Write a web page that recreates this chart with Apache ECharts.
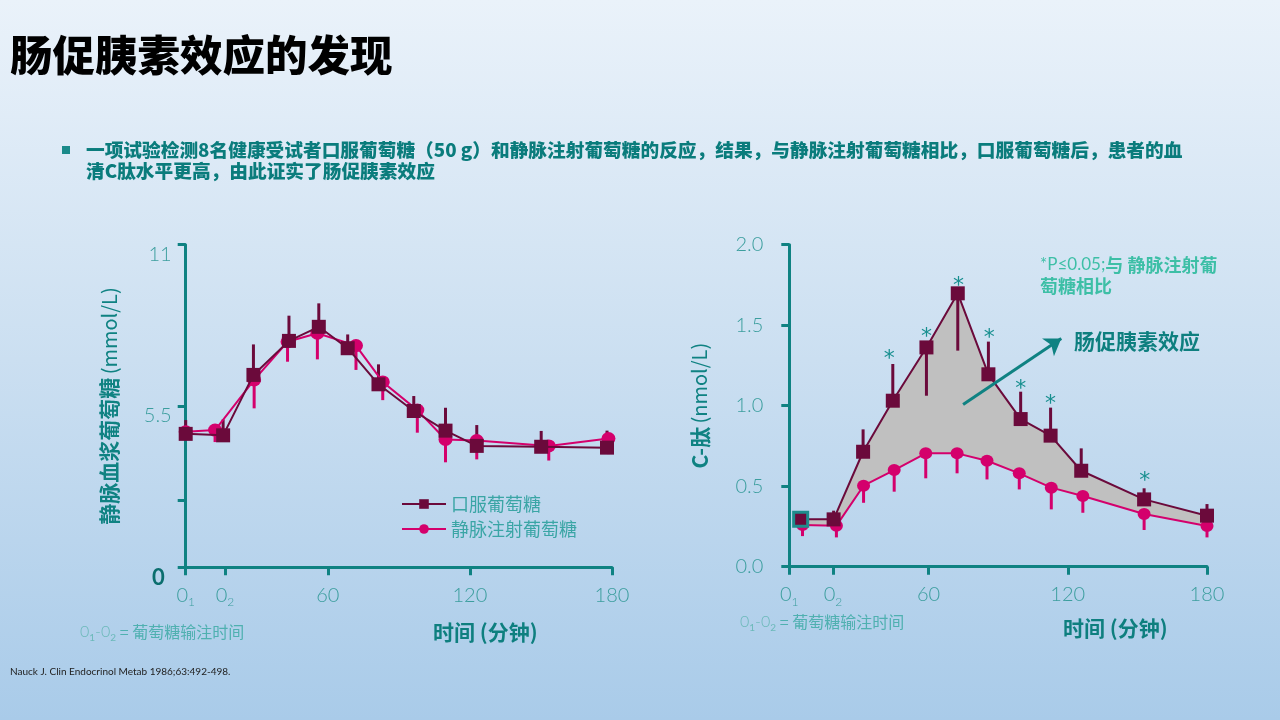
<!DOCTYPE html>
<html><head><meta charset="utf-8">
<script src="https://cdn.jsdelivr.net/npm/echarts@6/dist/echarts.min.js"></script>
<style>html,body{margin:0;padding:0;width:1280px;height:720px;overflow:hidden}#c{width:1280px;height:720px}</style>
</head><body><div id="c"></div>
<script>
// ---- text ----
const titleText = '肠促胰素效应的发现';
const bulletLine1 = '一项试验检测8名健康受试者口服葡萄糖（50 g）和静脉注射葡萄糖的反应，结果，与静脉注射葡萄糖相比，口服葡萄糖后，患者的血';
const bulletLine2 = '清C肽水平更高，由此证实了肠促胰素效应';
const seriesNames = ['口服葡萄糖', '静脉注射葡萄糖'];
const xAxisTitle = '时间 (分钟)';
const infusionNote = ' = 葡萄糖输注时间';
const refText = 'Nauck J. Clin Endocrinol Metab 1986;63:492-498.';
const sigNote1a = '*P≤0.05;';
const sigNote1b = '与 静脉注射葡';
const sigNote2 = '萄糖相比';
const effectText = '肠促胰素效应';

// ---- left chart: venous plasma glucose (mmol/L) ----
const gluYTicks = [0, 2.3, 5.5, 11];
const gluYLabels = [0, 5.5, 11];
const gluXTicks = [0, 16.6, 60, 120, 180];
const gluOralX = [0, 15.8, 28.6, 43.6, 56.2, 68.4, 81.4, 96.3, 109.7, 122.9, 150.1, 177.9];
const gluOralY = [4.55, 4.50, 6.56, 7.72, 8.20, 7.47, 6.24, 5.33, 4.66, 4.14, 4.11, 4.08];
const gluOralErr = [5.02, 5.04, 7.60, 8.58, 9.00, 7.94, 6.92, 5.84, 5.44, 4.85, 4.65, 4.66];
const gluIvX = [0, 12.4, 28.9, 43.0, 55.6, 71.9, 83.2, 97.8, 109.7, 122.9, 153.3, 178.5];
const gluIvY = [4.62, 4.68, 6.39, 7.69, 7.98, 7.56, 6.32, 5.36, 4.36, 4.32, 4.14, 4.39];
const gluIvErr = [4.35, 4.27, 5.42, 7.01, 7.09, 6.73, 5.70, 4.59, 3.58, 3.68, 3.64, 3.86];

// ---- right chart: C-peptide (nmol/L) ----
const cpXTicks = [0, 18.8, 60, 120, 180];
const cpOralX = [4.9, 19.1, 31.8, 44.6, 59.1, 72.6, 85.8, 99.7, 112.6, 125.8, 152.9, 180];
const cpOralY = [0.294, 0.294, 0.714, 1.031, 1.362, 1.698, 1.195, 0.917, 0.814, 0.596, 0.418, 0.317];
const cpOralErr = [0.34, 0.348, 0.853, 1.259, 1.062, 1.342, 1.398, 1.087, 0.988, 0.735, 0.487, 0.389];
const cpIvX = [5.7, 20.3, 32.0, 45.2, 58.8, 72.3, 85.2, 99.1, 112.9, 126.5, 152.9, 180];
const cpIvY = [0.259, 0.255, 0.503, 0.600, 0.704, 0.704, 0.658, 0.580, 0.491, 0.439, 0.327, 0.253];
const cpIvErr = [0.19, 0.182, 0.397, 0.466, 0.549, 0.580, 0.542, 0.480, 0.356, 0.335, 0.228, 0.182];
const starX = [43.1, 59.1, 72.9, 86.2, 99.7, 112.6, 153.2];
const starY = [1.319, 1.453, 1.770, 1.449, 1.135, 1.041, 0.563];
const arrowFrom = [74.9, 1.008];
const arrowTo = [117.2, 1.418];

// ---- styles ----
const TEAL = '#0F8282';
const TEAL_TXT = '#3C9E9E';
const ORAL = '#6B0A3B';
const IV = '#D4006C';
const CJK = '"Noto Sans CJK SC", "Noto Sans", sans-serif';
const NUM = 'Lato, "Noto Sans", sans-serif';

const chart = echarts.init(document.getElementById('c'));

function xLabelFmt(o2) {
  return function (v) {
    if (v === 0) return '{m|0}{s|1}';
    if (Math.abs(v - o2) < 0.01) return '{m|0}{s|2}';
    return '{m|' + v + '}';
  };
}
const xRich = {
  m: { fontSize: 20, lineHeight: 20, color: TEAL_TXT, fontFamily: NUM, fontWeight: 300, verticalAlign: 'top' },
  s: { fontSize: 12, lineHeight: 12, color: TEAL_TXT, fontFamily: NUM, fontWeight: 300, verticalAlign: 'top', padding: [11, 0, 0, 0] }
};
function xAxisCfg(gridIndex, ticks, o2) {
  return {
    type: 'value', gridIndex: gridIndex, min: 0, max: 180,
    axisLine: { show: true, lineStyle: { color: TEAL, width: 3 } },
    axisTick: { show: true, length: 8, lineStyle: { color: TEAL, width: 3 }, customValues: ticks },
    axisLabel: { customValues: ticks, formatter: xLabelFmt(o2), rich: xRich, margin: 18, verticalAlign: 'top' },
    splitLine: { show: false }
  };
}

function errSeries(xi, xs, ys, es, color) {
  return {
    type: 'custom', xAxisIndex: xi, yAxisIndex: xi, z: 2, silent: true,
    data: xs.map((x, i) => [x, ys[i], es[i]]),
    encode: { x: 0, y: [1, 2] },
    renderItem: function (params, api) {
      const p1 = api.coord([api.value(0), api.value(1)]);
      const p2 = api.coord([api.value(0), api.value(2)]);
      return { type: 'line', shape: { x1: p1[0], y1: p1[1], x2: p2[0], y2: p2[1] }, style: { stroke: color, lineWidth: 3 } };
    }
  };
}
function pts(xs, ys) { return xs.map((x, i) => [x, ys[i]]); }

const cpOralData = pts(cpOralX, cpOralY);
cpOralData[0] = { value: cpOralData[0], itemStyle: { color: ORAL, borderColor: '#1E8C8C', borderWidth: 3 } };

const nameRich = {
  b: { fontSize: 21, fontWeight: 'bold', color: TEAL, fontFamily: CJK },
  r: { fontSize: 20, color: TEAL, fontFamily: CJK }
};

const option = {
  animation: false,
  backgroundColor: {
    type: 'linear', x: 0, y: 0, x2: 0, y2: 1,
    colorStops: [{ offset: 0, color: '#EAF2FA' }, { offset: 0.5, color: '#CBDFF1' }, { offset: 1, color: '#A9CBE9' }]
  },
  grid: [
    { left: 185.7, top: 244.7, width: 426.3, height: 322.6 },
    { left: 789.3, top: 244.7, width: 417.7, height: 322 }
  ],
  legend: {
    data: seriesNames,
    left: 396, top: 490, orient: 'vertical', itemWidth: 44, itemHeight: 12, itemGap: 7,
    textStyle: { fontSize: 18, color: '#3AA5A5', fontFamily: CJK },
    selectedMode: false
  },
  xAxis: [xAxisCfg(0, gluXTicks, gluXTicks[1]), xAxisCfg(1, cpXTicks, cpXTicks[1])],
  yAxis: [
    {
      type: 'value', gridIndex: 0, min: 0, max: 11,
      axisLine: { show: true, lineStyle: { color: TEAL, width: 3 } },
      axisTick: { show: true, length: 8, lineStyle: { color: TEAL, width: 3 }, customValues: gluYTicks },
      axisLabel: {
        customValues: gluYLabels, margin: 14, verticalAlign: 'top',
        formatter: function (v) { return v === 0 ? '{z|0}' : '{n|' + v + '}'; },
        rich: {
          n: { fontSize: 20, color: TEAL_TXT, fontFamily: NUM, fontWeight: 300 },
          z: { fontSize: 22, color: '#0B6E6E', fontFamily: NUM, fontWeight: 'bold', padding: [0, 7, 0, 0] }
        }
      },
      splitLine: { show: false },
      name: '{b|静脉血浆葡萄糖} {r|(mmol/L)}', nameLocation: 'middle', nameGap: 66, nameRotate: 90,
      nameTextStyle: { rich: nameRich }
    },
    {
      type: 'value', gridIndex: 1, min: 0, max: 2, interval: 0.5,
      axisLine: { show: true, lineStyle: { color: TEAL, width: 3 } },
      axisTick: { show: true, length: 8, lineStyle: { color: TEAL, width: 3 } },
      axisLabel: { margin: 26, fontSize: 20, color: TEAL_TXT, fontFamily: NUM, fontWeight: 300, formatter: v => v.toFixed(1) },
      splitLine: { show: false },
      name: '{b|C-肽} {r|(nmol/L)}', nameLocation: 'middle', nameGap: 79, nameRotate: 90,
      nameTextStyle: { rich: nameRich }
    }
  ],
  series: [
    // left chart
    errSeries(0, gluIvX, gluIvY, gluIvErr, IV),
    errSeries(0, gluOralX, gluOralY, gluOralErr, ORAL),
    {
      name: seriesNames[1], type: 'line', xAxisIndex: 0, yAxisIndex: 0, z: 3,
      data: pts(gluIvX, gluIvY), symbol: 'circle', symbolSize: [14, 13],
      lineStyle: { color: IV, width: 2 }, itemStyle: { color: IV }, clip: false
    },
    {
      name: seriesNames[0], type: 'line', xAxisIndex: 0, yAxisIndex: 0, z: 4,
      data: pts(gluOralX, gluOralY), symbol: 'rect', symbolSize: 14,
      lineStyle: { color: ORAL, width: 2 }, itemStyle: { color: ORAL }, clip: false
    },
    // right chart
    {
      type: 'custom', xAxisIndex: 1, yAxisIndex: 1, z: 1, silent: true,
      data: [[0, 0]], encode: { x: 0, y: 1 },
      renderItem: function (params, api) {
        const up = cpOralX.map((x, i) => api.coord([x, cpOralY[i]]));
        const lo = cpIvX.map((x, i) => api.coord([x, cpIvY[i]])).reverse();
        return { type: 'polygon', shape: { points: up.concat(lo) }, style: { fill: '#C0C0C0' } };
      }
    },
    errSeries(1, cpIvX, cpIvY, cpIvErr, IV),
    errSeries(1, cpOralX, cpOralY, cpOralErr, ORAL),
    {
      name: seriesNames[1], type: 'line', xAxisIndex: 1, yAxisIndex: 1, z: 3,
      data: pts(cpIvX, cpIvY), symbol: 'circle', symbolSize: [13, 12],
      lineStyle: { color: IV, width: 2 }, itemStyle: { color: IV }, clip: false,
      markLine: {
        silent: true, symbol: ['none', 'arrow'], symbolSize: 16, animation: false,
        label: { show: false },
        lineStyle: { color: TEAL, width: 3, type: 'solid' },
        data: [[{ coord: arrowFrom }, { coord: arrowTo }]]
      }
    },
    {
      name: seriesNames[0], type: 'line', xAxisIndex: 1, yAxisIndex: 1, z: 4,
      data: cpOralData, symbol: 'rect', symbolSize: 14,
      lineStyle: { color: ORAL, width: 2 }, itemStyle: { color: ORAL }, clip: false
    },
    {
      type: 'custom', xAxisIndex: 1, yAxisIndex: 1, z: 5, silent: true,
      data: pts(starX, starY), encode: { x: 0, y: 1 },
      renderItem: function (params, api) {
        const p = api.coord([api.value(0), api.value(1)]);
        return {
          type: 'text', x: p[0], y: p[1] + 5,
          style: { text: '*', fontSize: 22, fontFamily: 'DejaVu Sans', fill: '#178F8F', align: 'center', verticalAlign: 'middle' }
        };
      }
    }
  ],
  graphic: [
    { type: 'text', x: 10, y: 55, style: { text: titleText, fontSize: 42.5, fontWeight: 900, fontFamily: CJK, fill: '#000', verticalAlign: 'middle' } },
    { type: 'rect', shape: { x: 62, y: 146, width: 8, height: 8 }, style: { fill: '#1A8A8A' } },
    { type: 'text', x: 86, y: 150, style: { text: bulletLine1, fontSize: 18.7, fontWeight: 900, fontFamily: CJK, fill: '#0A7C7C', verticalAlign: 'middle' } },
    { type: 'text', x: 86, y: 171, style: { text: bulletLine2, fontSize: 18.7, fontWeight: 900, fontFamily: CJK, fill: '#0A7C7C', verticalAlign: 'middle' } },
    { type: 'text', x: 433, y: 632, style: { text: xAxisTitle, fontSize: 21, fontWeight: 'bold', fontFamily: CJK, fill: '#0E7F7F', verticalAlign: 'middle' } },
    { type: 'text', x: 1063, y: 628, style: { text: xAxisTitle, fontSize: 21, fontWeight: 'bold', fontFamily: CJK, fill: '#0E7F7F', verticalAlign: 'middle' } },
    {
      type: 'text', x: 80, y: 632, style: {
        text: '{t|0}{s|1}{t|-0}{s|2}{c|' + infusionNote + '}', verticalAlign: 'middle',
        rich: {
          t: { fontSize: 16, fill: '#6BB9B9', fontFamily: NUM, fontWeight: 300, verticalAlign: 'top', lineHeight: 17 },
          s: { fontSize: 10, fill: '#6BB9B9', fontFamily: NUM, verticalAlign: 'top', lineHeight: 10, padding: [9, 0, 0, 0] },
          c: { fontSize: 16, fill: '#4FB0B0', fontFamily: CJK, verticalAlign: 'top', lineHeight: 17 }
        }
      }
    },
    {
      type: 'text', x: 740, y: 622, style: {
        text: '{t|0}{s|1}{t|-0}{s|2}{c|' + infusionNote + '}', verticalAlign: 'middle',
        rich: {
          t: { fontSize: 16, fill: '#6BB9B9', fontFamily: NUM, fontWeight: 300, verticalAlign: 'top', lineHeight: 17 },
          s: { fontSize: 10, fill: '#6BB9B9', fontFamily: NUM, verticalAlign: 'top', lineHeight: 10, padding: [9, 0, 0, 0] },
          c: { fontSize: 16, fill: '#4FB0B0', fontFamily: CJK, verticalAlign: 'top', lineHeight: 17 }
        }
      }
    },
    { type: 'text', x: 10, y: 672, style: { text: refText, fontSize: 10, fontFamily: 'Lato, sans-serif', fill: '#222', verticalAlign: 'middle' } },
    {
      type: 'text', x: 1040, y: 265, style: {
        text: '{a|' + sigNote1a + '}{b|' + sigNote1b + '}', verticalAlign: 'middle',
        rich: {
          a: { fontSize: 17, fill: '#3DBFA6', fontFamily: NUM },
          b: { fontSize: 18, fill: '#3DBFA6', fontFamily: CJK, fontWeight: 'bold' }
        }
      }
    },
    { type: 'text', x: 1040, y: 286, style: { text: sigNote2, fontSize: 18, fontWeight: 'bold', fill: '#3DBFA6', fontFamily: CJK, verticalAlign: 'middle' } },
    { type: 'text', x: 1074, y: 341, style: { text: effectText, fontSize: 21, fontWeight: 'bold', fill: '#0E7F7F', fontFamily: CJK, verticalAlign: 'middle' } }
  ]
};
chart.setOption(option);
</script>
</body></html>
